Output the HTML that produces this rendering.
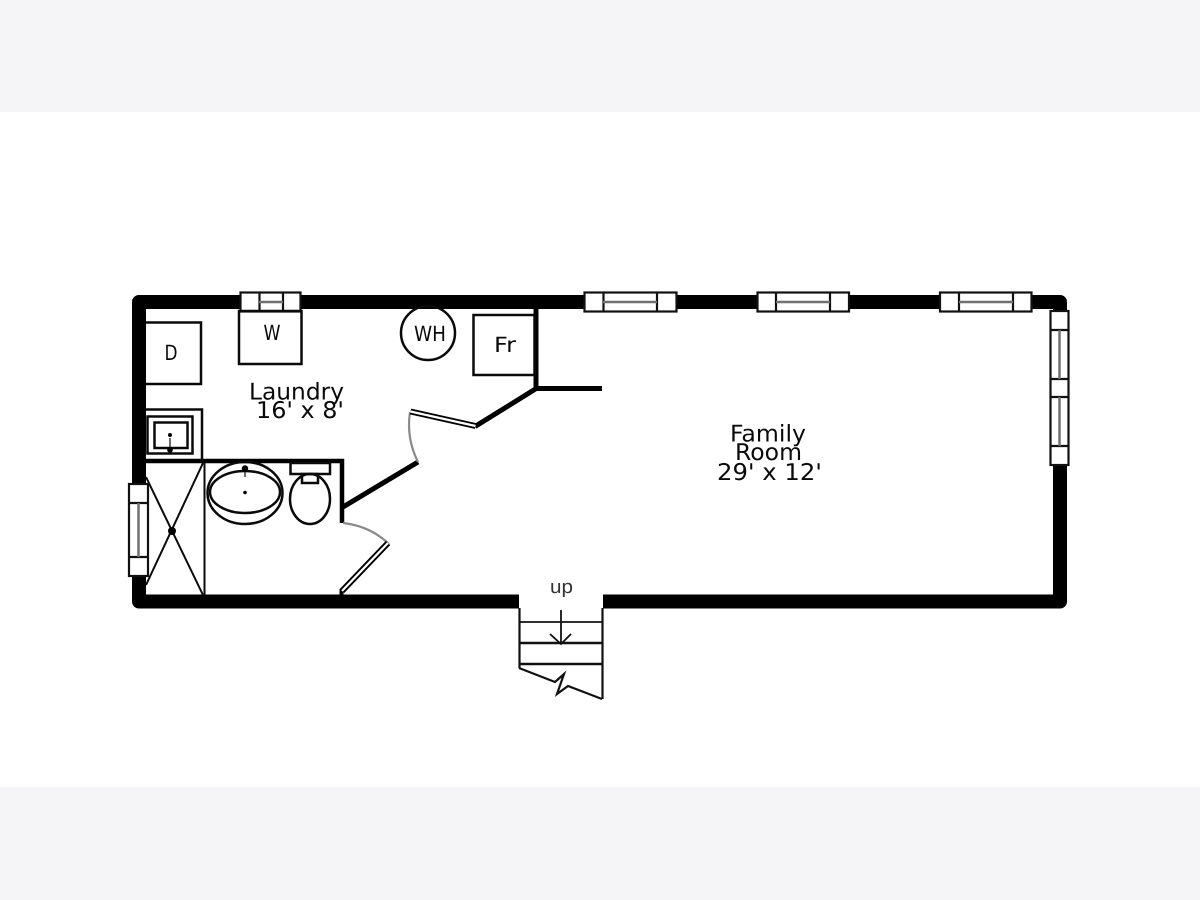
<!DOCTYPE html>
<html><head><meta charset="utf-8"><style>
html,body{margin:0;padding:0;background:#fff}
svg{display:block}
text{font-family:"DejaVu Sans","Liberation Sans",sans-serif;fill:#0a0a0a;text-rendering:geometricPrecision}
</style></head><body>
<svg width="1200" height="900" viewBox="0 0 1200 900" xmlns="http://www.w3.org/2000/svg">
<rect width="1200" height="900" fill="#fff"/>
<rect width="1200" height="112" fill="#f5f4f7"/>
<rect y="787" width="1200" height="113" fill="#f5f4f7"/>

<!-- outer walls -->
<path d="M519 601.500H139V302H1060V601.500H603" fill="none" stroke="#000" stroke-width="14" stroke-linejoin="round"/>

<!-- interior walls -->
<g fill="none" stroke="#000">
<path d="M146 461H342V523" stroke-width="4.500"/>
<path d="M536 309V388.500M534 388.500H602" stroke-width="5"/>
<path d="M537 388L475 426.500" stroke-width="5"/>
<path d="M343 507L418 462" stroke-width="5"/>
<path d="M341.500 589V595" stroke-width="4"/>
</g>

<!-- door swings -->
<g fill="none" stroke="#8a8a8a" stroke-width="2.200">
<path d="M343 523Q370 526 389 544"/>
<path d="M418 462Q406 438 410 412"/>
</g>
<!-- door leaves -->
<path d="M410.500 411.500L475.500 426" stroke="#000" stroke-width="6" fill="none"/>
<path d="M410.500 411.500L475.500 426" stroke="#fff" stroke-width="2.200" fill="none"/>
<path d="M388 543L342 591" stroke="#000" stroke-width="6" fill="none"/>
<path d="M388 543L342 591" stroke="#fff" stroke-width="2.200" fill="none"/>

<!-- top windows -->
<g fill="#fff" stroke="#111" stroke-width="2.200">
<rect x="240.500" y="292.500" width="60" height="19"/>
<path d="M259.500 292.500V311.500M283 292.500V311.500"/>
<rect x="584.500" y="292.500" width="92" height="19"/>
<path d="M603.500 292.500V311.500M657 292.500V311.500"/>
<rect x="757.500" y="292.500" width="91.500" height="19"/>
<path d="M776 292.500V311.500M830 292.500V311.500"/>
<rect x="940" y="292.500" width="91.500" height="19"/>
<path d="M959 292.500V311.500M1013 292.500V311.500"/>
<!-- right window -->
<rect x="1050.500" y="311" width="18" height="154"/>
<path d="M1050.500 330H1068.500M1050.500 379H1068.500M1050.500 397H1068.500M1050.500 446H1068.500"/>
<!-- left window -->
<rect x="129" y="484" width="19" height="92"/>
<path d="M129 503H148M129 557H148"/>
</g>
<g stroke="#707070" stroke-width="2.500" fill="none">
<path d="M259 302H283M603 302H657M776 302H830M959 302H1013"/>
<path d="M1059.500 330V379M1059.500 397V446M138.500 503V557"/>
</g>

<!-- appliances -->
<g fill="none" stroke="#0a0a0a" stroke-width="2.500">
<rect x="239" y="311" width="62.500" height="53"/>
<path d="M146 322.500H201V384H146"/>
<path d="M146 409.500H202V461"/>
<rect x="147.500" y="416.500" width="45" height="37"/>
<rect x="154.500" y="422.500" width="33" height="25.500"/>
<circle cx="428" cy="333" r="27"/>
<rect x="473.500" y="315" width="61" height="60"/>
<!-- shower -->
<path d="M204.500 463V595M203 463L146 585M146 477L203 595" stroke-width="2"/>
<!-- basin -->
<ellipse cx="245" cy="493" rx="37.500" ry="31"/>
<ellipse cx="245" cy="492" rx="35" ry="21"/>
<path d="M245 470V477" stroke-width="1.200"/>
<!-- toilet -->
<rect x="290.500" y="463" width="39.500" height="11"/>
<rect x="302" y="474" width="16" height="9"/>
<ellipse cx="310" cy="499" rx="20" ry="25"/>
<path d="M170 438V450" stroke-width="1.200"/>
</g>
<g fill="#000">
<circle cx="172" cy="531" r="4"/>
<circle cx="245" cy="468.500" r="3.200"/>
<circle cx="245" cy="492.500" r="1.800"/>
<circle cx="170" cy="435" r="2"/>
<circle cx="170" cy="450" r="2.800"/>
</g>

<!-- stairs -->
<g fill="none" stroke="#111">
<path d="M519.500 608V668M602.500 608V699" stroke-width="2.200"/>
<path d="M519 622H602" stroke-width="1.800"/>
<path d="M519 643H602M519 664H602" stroke-width="2.400"/>
<path d="M519 668L555 682L564 674L557 694L568 686L602 699" stroke-width="2.200"/>
<path d="M561 610V644M550 634L561 644L571 634" stroke-width="1.800"/>
</g>

<!-- labels -->
<g font-size="23">
<text x="249" y="399.500" textLength="95" lengthAdjust="spacingAndGlyphs">Laundry</text>
<text x="256" y="418" textLength="88" lengthAdjust="spacingAndGlyphs">16' x 8'</text>
<text x="730" y="441.500" textLength="76" lengthAdjust="spacingAndGlyphs">Family</text>
<text x="735" y="460" textLength="67" lengthAdjust="spacingAndGlyphs">Room</text>
<text x="717" y="480" textLength="105" lengthAdjust="spacingAndGlyphs">29' x 12'</text>
<text x="164.500" y="360" font-size="21" textLength="13" lengthAdjust="spacingAndGlyphs">D</text>
<text x="263.500" y="340" font-size="21" textLength="17" lengthAdjust="spacingAndGlyphs">W</text>
<text x="414" y="341" font-size="21" textLength="32" lengthAdjust="spacingAndGlyphs">WH</text>
<text x="494" y="352" font-size="21" textLength="22" lengthAdjust="spacingAndGlyphs">Fr</text>
</g>
<text x="550" y="593" style="font-family:'Liberation Sans',sans-serif;fill:#333" font-size="19" textLength="23" lengthAdjust="spacingAndGlyphs">up</text>
</svg>
</body></html>
